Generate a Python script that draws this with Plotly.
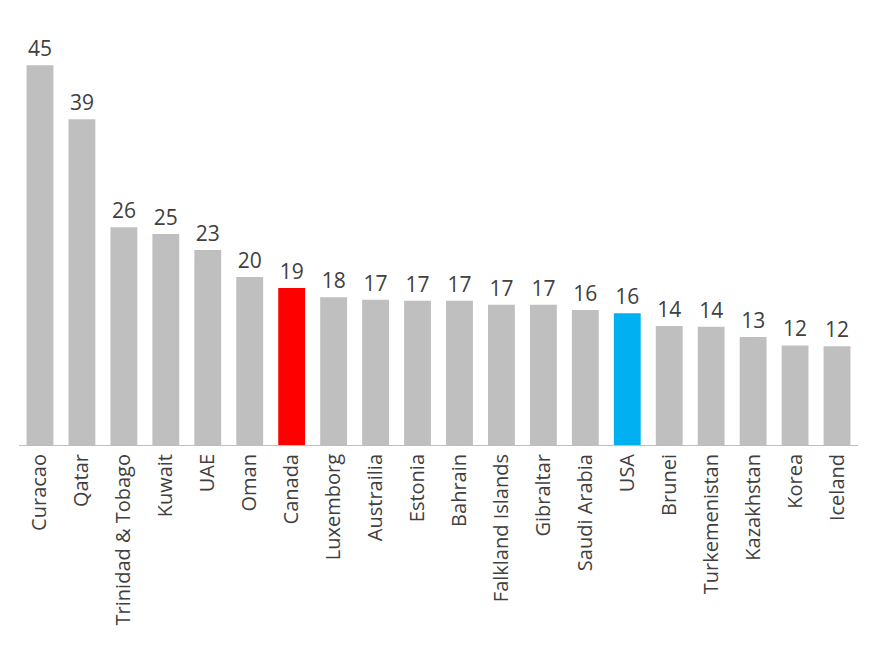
import plotly.graph_objects as go

countries = ["Curacao","Qatar","Trinidad & Tobago","Kuwait","UAE","Oman","Canada","Luxemborg",
             "Austrailia","Estonia","Bahrain","Falkland Islands","Gibraltar","Saudi Arabia","USA",
             "Brunei","Turkemenistan","Kazakhstan","Korea","Iceland"]
values = [45.0,38.6,25.8,25.0,23.1,19.9,18.6,17.5,17.2,17.1,17.1,16.6,16.6,16.0,15.6,14.1,14.0,12.8,11.8,11.7]
colors = ["#BFBFBF"]*len(countries)
colors[countries.index("Canada")] = "#FF0000"
colors[countries.index("USA")] = "#00B0F0"

fig = go.Figure(go.Bar(
    x=countries, y=values, marker_color=colors, marker_line_width=0,
    texttemplate="%{y:.0f}", textposition="outside", cliponaxis=False,
    textfont=dict(size=21, color="#404040"),
))
fig.update_layout(
    width=879, height=656, margin=dict(l=11, r=29, t=20, b=219, autoexpand=False),
    plot_bgcolor="white", paper_bgcolor="white", bargap=0.36,
    font=dict(family="Open Sans, Liberation Sans, sans-serif", color="#404040"),
    showlegend=False,
)
fig.update_xaxes(tickangle=-90, tickfont=dict(size=20), showline=True, linecolor="#BFBFBF",
                 linewidth=1, ticks="", automargin=False)
fig.update_yaxes(range=[0, 49.4], visible=False, showgrid=False, automargin=False)
fig.write_html("out.html")
